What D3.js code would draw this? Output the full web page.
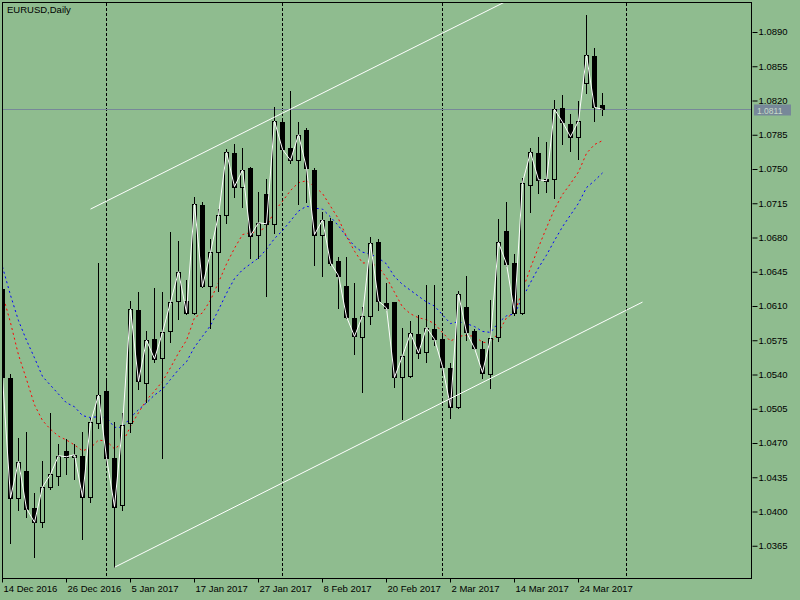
<!DOCTYPE html>
<html>
<head>
<meta charset="utf-8">
<script src="https://cdn.jsdelivr.net/npm/d3@7"></script>
<style>
html, body { margin: 0; padding: 0; background: #8fbc8f; }
svg { display: block; }
text { font-family: "Liberation Sans", Arial, sans-serif; font-size: 9.5px; }
</style>
</head>
<body>
<div id="chart"></div>
<script>
// EURUSD daily, 14 Dec 2016 .. 29 Mar 2017 (one entry per bar)
var opens = [1.0627,1.0536,1.0414,1.0441,1.0404,1.0389,1.0425,1.0436,1.0462,1.0456,
  1.0457,1.0415,1.0490,1.0523,1.0455,1.0407,1.0490,1.0606,1.0531,1.0576,
  1.0557,1.0584,1.0615,1.0615,1.0603,1.0713,1.0630,1.0665,1.0703,1.0766,
  1.0732,1.0751,1.0683,1.0724,1.0694,1.0798,1.0771,1.0759,1.0790,1.0749,
  1.0683,1.0697,1.0656,1.0630,1.0598,1.0578,1.0600,1.0675,1.0613,1.0614,
  1.0537,1.0538,1.0581,1.0563,1.0587,1.0576,1.0547,1.0507,1.0609,1.0584,
  1.0566,1.0541,1.0578,1.0687,1.0654,1.0603,1.0734,1.0766,1.0740,1.0740,
  1.0812,1.0796,1.0783,1.0838,1.0865,1.0815];
var highs = [1.0631,1.0540,1.0475,1.0481,1.0419,1.0452,1.0501,1.0469,1.0474,1.0469,
  1.0481,1.0496,1.0654,1.0535,1.0491,1.0501,1.0615,1.0624,1.0584,1.0628,
  1.0624,1.0686,1.0676,1.0637,1.0721,1.0716,1.0678,1.0709,1.0770,1.0776,
  1.0771,1.0752,1.0726,1.0740,1.0813,1.0801,1.0830,1.0798,1.0792,1.0751,
  1.0706,1.0700,1.0660,1.0660,1.0634,1.0609,1.0680,1.0678,1.0634,1.0614,
  1.0588,1.0595,1.0601,1.0631,1.0631,1.0581,1.0552,1.0625,1.0641,1.0586,
  1.0574,1.0616,1.0699,1.0716,1.0663,1.0741,1.0771,1.0783,1.0778,1.0820,
  1.0826,1.0806,1.0819,1.0907,1.0874,1.0828];
var lows = [1.0531,1.0368,1.0402,1.0394,1.0353,1.0384,1.0423,1.0427,1.0438,1.0433,
  1.0372,1.0410,1.0485,1.0451,1.0343,1.0402,1.0481,1.0525,1.0512,1.0553,
  1.0455,1.0573,1.0597,1.0602,1.0602,1.0629,1.0588,1.0625,1.0695,1.0721,
  1.0711,1.0659,1.0659,1.0620,1.0685,1.0729,1.0756,1.0714,1.0716,1.0652,
  1.0641,1.0652,1.0608,1.0598,1.0561,1.0522,1.0592,1.0606,1.0606,1.0527,
  1.0495,1.0537,1.0557,1.0553,1.0570,1.0543,1.0496,1.0506,1.0575,1.0566,
  1.0536,1.0526,1.0574,1.0651,1.0601,1.0602,1.0706,1.0725,1.0727,1.0720,
  1.0776,1.0768,1.0760,1.0828,1.0799,1.0805];
var closes = [1.0537,1.0414,1.0451,1.0403,1.0389,1.0425,1.0438,1.0457,1.0456,1.0458,
  1.0415,1.0491,1.0519,1.0455,1.0405,1.0488,1.0607,1.0533,1.0575,1.0556,
  1.0583,1.0614,1.0645,1.0603,1.0714,1.0630,1.0665,1.0703,1.0767,1.0732,
  1.0749,1.0682,1.0695,1.0694,1.0799,1.0770,1.0759,1.0785,1.0751,1.0683,
  1.0698,1.0654,1.0641,1.0599,1.0579,1.0600,1.0674,1.0615,1.0608,1.0537,
  1.0559,1.0582,1.0562,1.0588,1.0576,1.0548,1.0507,1.0622,1.0583,1.0567,
  1.0542,1.0577,1.0675,1.0653,1.0603,1.0736,1.0767,1.0739,1.0738,1.0811,
  1.0798,1.0783,1.0799,1.0866,1.0813,1.0811];

// moving averages (red = fast, blue = slow)
var maFast = [1.0622,1.0593,1.0560,1.0535,1.0509,1.0493,1.0484,1.0477,1.0473,1.0468,
  1.0462,1.0465,1.0473,1.0472,1.0464,1.0470,1.0487,1.0501,1.0514,1.0523,
  1.0533,1.0547,1.0562,1.0575,1.0598,1.0603,1.0616,1.0634,1.0653,1.0669,
  1.0683,1.0685,1.0686,1.0691,1.0707,1.0717,1.0728,1.0736,1.0738,1.0732,
  1.0725,1.0712,1.0699,1.0681,1.0666,1.0654,1.0654,1.0650,1.0639,1.0624,
  1.0609,1.0602,1.0598,1.0596,1.0592,1.0583,1.0574,1.0579,1.0580,1.0579,
  1.0573,1.0572,1.0583,1.0598,1.0603,1.0626,1.0649,1.0670,1.0690,1.0709,
  1.0724,1.0735,1.0747,1.0766,1.0775,1.0779];
var maSlow = [1.0650,1.0621,1.0595,1.0575,1.0557,1.0538,1.0529,1.0520,1.0511,1.0507,
  1.0498,1.0496,1.0497,1.0496,1.0486,1.0486,1.0496,1.0504,1.0511,1.0519,
  1.0525,1.0535,1.0545,1.0553,1.0568,1.0579,1.0590,1.0606,1.0623,1.0638,
  1.0647,1.0653,1.0659,1.0668,1.0679,1.0687,1.0697,1.0707,1.0712,1.0710,
  1.0709,1.0701,1.0692,1.0681,1.0671,1.0665,1.0663,1.0659,1.0653,1.0640,
  1.0632,1.0626,1.0620,1.0614,1.0610,1.0601,1.0592,1.0594,1.0592,1.0589,
  1.0584,1.0583,1.0593,1.0600,1.0602,1.0618,1.0634,1.0649,1.0662,1.0677,
  1.0691,1.0703,1.0715,1.0731,1.0738,1.0746];

// month separators (bar index of first bar of each month)
var separatorBars = [13, 35, 55, 78];
var timeLabelBars = [0, 8, 16, 24, 32, 40, 48, 56, 64, 72];
var timeLabels = ["14 Dec 2016", "26 Dec 2016", "5 Jan 2017", "17 Jan 2017", "27 Jan 2017",
  "8 Feb 2017", "20 Feb 2017", "2 Mar 2017", "14 Mar 2017", "24 Mar 2017"];
var priceTicks = [1.0365, 1.0400, 1.0435, 1.0470, 1.0505, 1.0540, 1.0575, 1.0610,
  1.0645, 1.0680, 1.0715, 1.0750, 1.0785, 1.0820, 1.0855, 1.0890];
var lastPrice = 1.0811;
// channel lines: [bar, price] anchors
var channelUpper = [[11, 1.0709], [80, 1.0991]];
var channelLower = [[14, 1.0343], [80, 1.0614]];

var W = 800, H = 600;
var plot = { left: 3, top: 3, right: 752, bottom: 579 };
var bg = "#8fbc8f";

var svg = d3.select("#chart").append("svg")
  .attr("width", W).attr("height", H);

svg.append("rect").attr("width", W).attr("height", H).attr("fill", bg);

var x = d3.scaleLinear().domain([0, 1]).range([2, 10]);
var y = d3.scaleLinear().domain([1.0365, 1.0890]).range([545.75, 32]);
function px(i) { return x(i) + 0.5; }
function py(v) { return Math.round(y(v)) + 0.5; }

svg.append("clipPath").attr("id", "plotClip")
  .append("rect")
  .attr("x", plot.left).attr("y", plot.top)
  .attr("width", plot.right - plot.left).attr("height", plot.bottom - plot.top);

var g = svg.append("g").attr("clip-path", "url(#plotClip)");

// period separators
g.selectAll(".sep").data(separatorBars).enter().append("line")
  .attr("class", "sep")
  .attr("x1", px).attr("x2", px)
  .attr("y1", plot.top).attr("y2", plot.bottom)
  .attr("stroke", "#000").attr("stroke-dasharray", "3,2");

// last price line
g.append("line")
  .attr("x1", plot.left).attr("x2", plot.right)
  .attr("y1", py(lastPrice)).attr("y2", py(lastPrice))
  .attr("stroke", "#778899");

// moving averages
var maLine = d3.line().x(function (d, i) { return px(i); }).y(function (d) { return y(d); });
g.append("path").datum(maSlow).attr("d", maLine)
  .attr("fill", "none").attr("stroke", "#0000ff").attr("stroke-dasharray", "2,3");
g.append("path").datum(maFast).attr("d", maLine)
  .attr("fill", "none").attr("stroke", "#ff0000").attr("stroke-dasharray", "2,3");

// candles
var idx = d3.range(closes.length);
g.selectAll(".wick").data(idx).enter().append("line")
  .attr("class", "wick")
  .attr("x1", px).attr("x2", px)
  .attr("y1", function (i) { return py(highs[i]) - 0.5; })
  .attr("y2", function (i) { return py(lows[i]) + 0.5; })
  .attr("stroke", "#000");

g.selectAll(".body").data(idx).enter().append("rect")
  .attr("class", "body")
  .each(function (i) {
    var top = Math.round(y(Math.max(opens[i], closes[i])));
    var bot = Math.round(y(Math.min(opens[i], closes[i])));
    var el = d3.select(this);
    if (closes[i] >= opens[i]) {
      el.attr("x", x(i) - 2 + 0.5).attr("y", top + 0.5)
        .attr("width", 4).attr("height", Math.max(bot - top, 1))
        .attr("fill", bg).attr("stroke", "#000");
    } else {
      el.attr("x", x(i) - 2).attr("y", top)
        .attr("width", 5).attr("height", Math.max(bot - top + 1, 1))
        .attr("fill", "#000");
    }
  });

// close line
var closeLine = d3.line().x(function (d, i) { return px(i); }).y(function (d) { return y(d); });
g.append("path").datum(closes).attr("d", closeLine)
  .attr("fill", "none").attr("stroke", "#fff").attr("stroke-width", 1);

// channel
var chLine = d3.line().x(function (d) { return x(d[0]) + 0.5; }).y(function (d) { return y(d[1]); });
[channelUpper, channelLower].forEach(function (c) {
  g.append("path").datum(c).attr("d", chLine)
    .attr("fill", "none").attr("stroke", "#fff");
});

// frame
svg.append("rect")
  .attr("x", plot.left - 0.5).attr("y", plot.top - 0.5)
  .attr("width", plot.right - plot.left).attr("height", plot.bottom - plot.top)
  .attr("fill", "none").attr("stroke", "#000");

// price axis
var yAxis = svg.append("g")
  .attr("transform", "translate(" + (plot.right + 0.5) + ",0)")
  .call(d3.axisRight(y).tickValues(priceTicks).tickFormat(d3.format(".4f"))
    .tickSize(5).tickPadding(1));
yAxis.select(".domain").remove();
yAxis.selectAll("line").attr("stroke", "#000");
yAxis.selectAll("text").attr("fill", "#000").attr("dy", "0.3em");
yAxis.attr("font-family", null).attr("font-size", null);

// time axis
var xAxis = svg.append("g")
  .attr("transform", "translate(0," + (plot.bottom - 0.5) + ")")
  .call(d3.axisBottom(x).tickValues(timeLabelBars)
    .tickFormat(function (d, i) { return timeLabels[i]; })
    .tickSize(4).tickPadding(3));
xAxis.select(".domain").remove();
xAxis.selectAll("line").attr("stroke", "#000");
xAxis.selectAll("text").attr("fill", "#000").attr("text-anchor", "start")
  .attr("x", 1).attr("dy", "0.71em");
xAxis.attr("font-family", null).attr("font-size", null);

// last price label
var lp = py(lastPrice);
svg.append("rect")
  .attr("x", plot.right + 2).attr("y", lp - 5)
  .attr("width", 37).attr("height", 11)
  .attr("fill", "#778899");
svg.append("text")
  .attr("x", plot.right + 5).attr("y", lp + 4.5)
  .attr("fill", "#c8dcc8")
  .style("font-size", "8.5px")
  .text(d3.format(".4f")(lastPrice));

// title
svg.append("text").attr("x", 7).attr("y", 13).attr("fill", "#000").text("EURUSD,Daily");
</script>
</body>
</html>
